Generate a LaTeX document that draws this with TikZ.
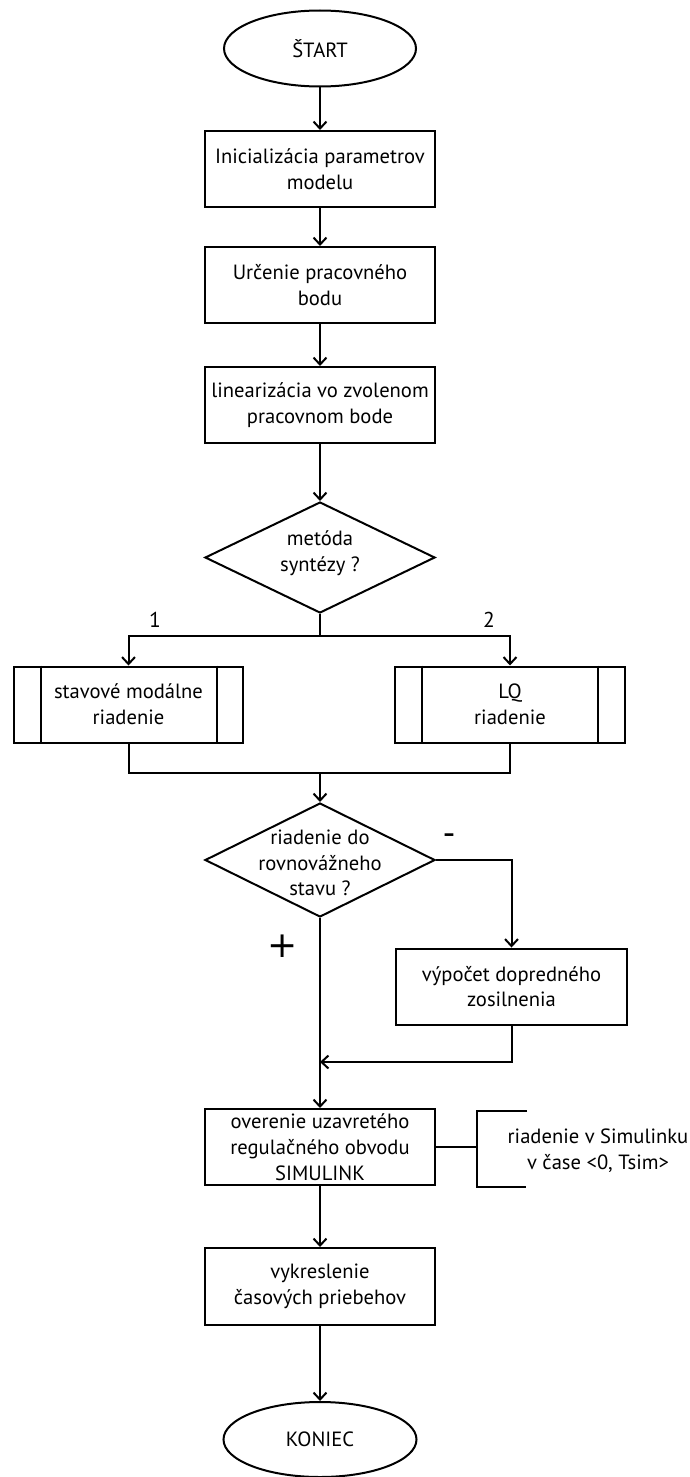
\documentclass[tikz,border=0pt]{standalone}
\usepackage{fontspec}
\setmainfont{PT Sans}
\newfontfamily\plusfont{DejaVu Sans}
\usetikzlibrary{shapes.geometric,arrows.meta}
\newcommand{\txtfont}{\fontsize{20.6}{25.8}\selectfont}
\tikzset{
  conn/.style={line width=2pt},
  arr/.style={line width=2pt,-{Straight Barb[length=7pt,width=13pt,line width=2pt]}},
  proc/.style={draw,line width=2pt,rectangle,minimum width=230pt,minimum height=76pt,inner sep=0pt,align=center,font=\txtfont},
  term/.style={draw,line width=2pt,ellipse,minimum width=192pt,minimum height=76pt,inner sep=0pt,font=\txtfont},
  decis/.style={draw,line width=2pt,diamond,minimum width=230pt,inner sep=0pt},
  lbl/.style={font=\txtfont,inner sep=0pt},
}
\begin{document}
\begin{tikzpicture}[x=1pt,y=-1pt]
\useasboundingbox (0,0) rectangle (690,1477);
\fill[white] (0,0) rectangle (690,1477);

\node[term] (start) at (320,48.5) {ŠTART};
\node[proc] (init) at (320,169) {Inicializácia parametrov\\modelu};
\node[proc] (urc) at (320,285) {Určenie pracovného\\bodu};
\node[proc] (lin) at (320,405) {linearizácia vo zvolenom\\pracovnom bode};
\node[decis,minimum height=111pt,label={[font=\txtfont,align=center,yshift=4pt]center:metóda\\syntézy ?}] (d1) at (320,557.5) {};
\node[proc,minimum width=229pt] (sm) at (128.5,704.5) {stavové modálne\\riadenie};
\node[proc] (lq) at (510,704.5) {LQ\\riadenie};
\node[decis,minimum height=114pt,label={[font=\txtfont,align=center,yshift=-3pt]center:riadenie do\\rovnovážneho\\stavu ?}] (d2) at (320,860) {};
\node[proc,minimum width=231pt] (vyp) at (511.5,986.5) {výpočet dopredného\\zosilnenia};
\node[proc] (over) at (320,1147) {overenie uzavretého\\regulačného obvodu\\SIMULINK};
\node[proc,minimum height=77pt] (vyk) at (320,1286.5) {vykreslenie\\časových priebehov};
\node[term,minimum width=193pt,minimum height=75pt] (end) at (320,1439.5) {KONIEC};

\node[lbl,align=center] (ann) at (598,1151) {riadenie v Simulinku\\v čase <0, Tsim>};

\node[lbl,font=\fontsize{21.5}{22}\selectfont] (l1) at (155,620) {1};
\node[lbl,font=\fontsize{21.5}{22}\selectfont] (l2) at (489,620) {2};
\node[lbl,font=\fontsize{36}{36}\selectfont] (lminus) at (449,840) {-};
\node[lbl,font=\plusfont\fontsize{36}{36}\selectfont] (lplus) at (283,946) {+};

% subprocess inner lines
\draw[conn] ([xshift=28pt]sm.north west) -- ([xshift=28pt]sm.south west);
\draw[conn] ([xshift=-27pt]sm.north east) -- ([xshift=-27pt]sm.south east);
\draw[conn] ([xshift=28pt]lq.north west) -- ([xshift=28pt]lq.south west);
\draw[conn] ([xshift=-28pt]lq.north east) -- ([xshift=-28pt]lq.south east);

\coordinate (split) at (320,636);
\coordinate (merge) at (320,773);
\coordinate (ret) at (320,1062);
\coordinate (bk) at (477,1147);

\draw[arr] (start) -- (init);
\draw[arr] (init) -- (urc);
\draw[arr] (urc) -- (lin);
\draw[arr] (lin) -- (d1);
\draw[conn] (d1.south) -- (split);
\draw[arr] (split) -| (sm.north);
\draw[arr] (split) -| (lq.north);
\draw[conn] (sm.south) |- (merge);
\draw[conn] (lq.south) |- (merge);
\draw[arr] (merge) -- (d2.north);
\draw[arr] (d2.east) -| (vyp.north);
\draw[arr] (d2.south) -- (over.north);
\draw[arr] (vyp.south) |- (ret);
\draw[arr] (over) -- (vyk);
\draw[arr] (vyk) -- (end);
\draw[conn] (over.east) -- (bk);
\draw[conn] (527,1111) -- (477,1111) -- (477,1187) -- (526,1187);
\end{tikzpicture}
\end{document}
